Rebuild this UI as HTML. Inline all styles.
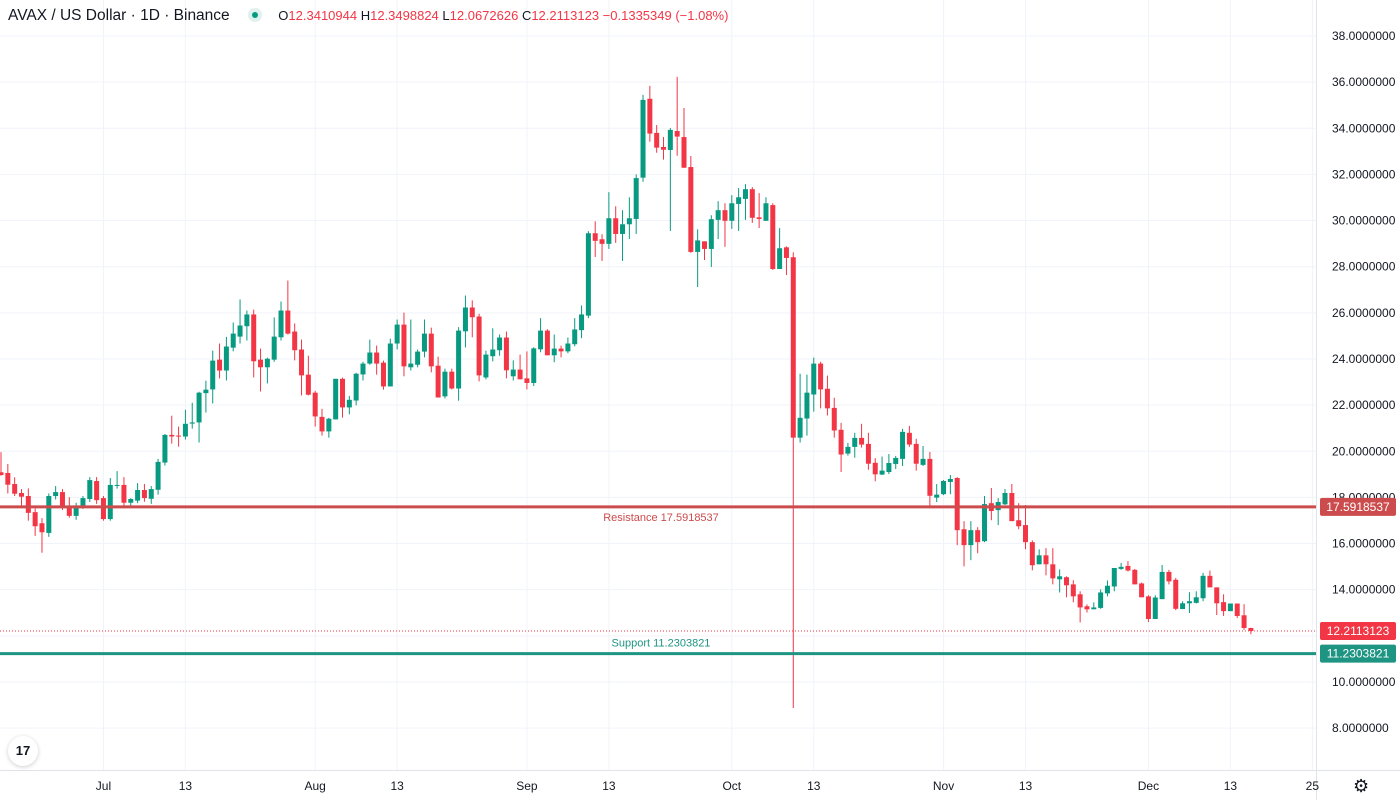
<!DOCTYPE html>
<html><head><meta charset="utf-8"><style>
body{margin:0;background:#fff;font-family:"Liberation Sans",sans-serif;}
#wrap{position:relative;width:1400px;height:800px;overflow:hidden;}
svg text{font-family:"Liberation Sans",sans-serif;}
</style></head><body>
<div id="wrap">
<svg id="chart" width="1400" height="800"></svg>
</div>
<script>
const opens=[19.09,19.06,18.58,18.19,18.06,17.36,16.88,16.46,18.06,18.23,17.55,17.2,17.55,17.93,18.71,17.97,17.06,18.5,18.54,17.77,17.86,18.32,17.94,18.33,19.51,20.71,20.68,20.64,21.2,21.25,22.52,22.68,23.97,23.5,24.49,24.97,25.42,25.93,23.97,23.64,23.97,24.94,26.1,25.19,24.41,23.32,22.54,21.49,20.86,21.38,23.14,21.9,22.2,23.33,23.8,24.28,23.84,22.81,24.67,25.49,23.64,23.75,24.32,25.1,23.71,22.38,23.45,22.72,25.2,26.23,25.84,23.2,24.12,24.38,24.93,23.25,23.54,23.16,22.96,24.42,25.23,24.16,24.45,24.33,24.64,25.25,25.88,29.45,29.19,28.99,30.1,29.42,29.84,30.07,31.86,35.28,33.8,33.19,33.06,33.88,33.62,32.32,28.64,29.1,28.77,30.03,30.45,29.99,30.72,30.94,31.36,30.14,29.99,30.67,27.9,28.84,28.41,20.59,21.42,22.46,23.8,22.71,21.88,20.93,19.9,20.19,20.58,20.32,19.5,18.99,19.1,19.45,19.67,20.8,20.32,19.41,19.67,17.99,18.14,18.67,18.84,16.62,15.93,16.58,16.1,17.75,17.45,17.7,18.19,17.01,16.8,16.06,15.1,15.49,15.1,14.45,14.54,14.23,13.8,13.28,13.15,13.21,13.84,14.14,14.9,15.03,14.86,14.27,13.71,12.73,13.59,14.77,14.43,13.16,13.41,13.43,13.63,14.6,14.1,13.46,13.07,13.4,12.89,12.34];
const highs=[19.96,19.45,18.87,18.36,18.39,17.52,17.1,18.17,18.49,18.36,18.01,17.77,18.06,18.88,18.88,18.06,18.84,19.14,18.88,17.97,18.62,18.58,18.49,19.67,20.75,21.54,21.07,21.8,22.1,22.58,23.06,24.36,24.67,24.96,25.58,26.58,26.1,26.14,24.45,24.06,25.8,26.49,27.4,25.54,24.84,24.14,22.62,21.84,21.45,23.14,23.19,22.4,23.4,23.88,24.84,24.58,23.93,24.88,25.71,26.01,25.71,24.41,25.71,25.36,24.1,23.58,23.58,25.38,26.75,26.54,25.96,24.36,25.33,25.06,25.19,23.94,24.19,24.33,24.51,25.77,25.29,25.06,24.58,24.93,25.77,26.32,29.54,29.97,29.41,31.23,30.62,30.45,31.01,32.0,35.45,35.84,34.14,33.62,34.01,36.23,34.88,32.8,29.62,29.1,30.23,30.84,30.75,31.1,31.41,31.58,31.45,31.19,31.01,30.75,29.67,28.88,28.62,23.36,23.32,24.06,23.88,23.28,22.32,21.23,20.36,20.8,21.19,20.8,19.7,19.77,19.88,19.8,20.97,21.1,20.54,20.23,19.97,18.58,18.75,18.97,18.88,16.97,16.97,16.71,18.06,18.41,17.97,18.36,18.58,17.75,17.67,16.14,15.75,15.8,15.8,14.88,14.58,14.41,13.93,13.36,13.45,14.01,14.4,14.94,15.16,15.24,14.9,14.31,13.76,13.76,15.07,14.86,14.51,13.5,13.89,13.93,14.73,14.83,14.1,13.8,13.4,13.4,13.37,12.35];
const lows=[18.94,18.17,18.06,17.62,16.99,16.33,15.6,16.29,17.91,17.45,17.12,17.03,17.5,17.8,17.72,16.99,16.99,18.38,17.6,17.64,17.75,17.81,17.72,18.12,19.38,20.33,20.2,20.51,20.98,20.38,21.68,22.07,23.16,23.07,24.33,24.67,24.8,23.2,22.59,22.94,23.88,24.8,25.06,23.94,22.42,22.42,21.07,20.68,20.59,21.38,21.46,21.6,21.99,23.07,23.75,23.32,22.67,22.81,24.41,23.25,23.5,23.64,24.07,23.42,22.33,22.29,22.68,22.19,24.5,24.94,23.03,23.12,23.9,24.14,23.16,23.07,23.12,22.68,22.83,24.29,24.16,23.86,24.07,24.25,24.55,24.9,25.77,28.42,28.25,28.77,29.03,28.25,29.2,29.42,31.68,33.42,32.94,32.64,29.55,32.81,32.29,28.6,27.12,28.29,27.99,29.2,28.86,29.64,29.55,30.03,29.9,29.68,29.99,27.86,27.9,27.64,8.87,20.38,20.68,21.72,21.86,21.55,20.59,19.1,19.81,19.72,20.16,19.2,18.7,18.97,19.01,19.23,19.36,20.19,19.16,19.36,17.62,17.8,18.1,18.14,15.93,15.01,15.28,15.58,16.06,17.01,16.8,17.67,16.97,16.62,15.75,14.84,15.1,14.62,14.23,13.88,13.67,13.45,12.58,13.01,13.15,13.17,13.71,13.93,14.86,14.79,14.23,13.67,12.6,12.73,13.59,14.23,13.11,13.16,12.99,13.4,13.5,14.1,12.9,12.86,13.07,12.77,12.26,12.07];
const closes=[18.97,18.55,18.16,18.03,17.33,16.75,16.49,18.06,18.23,17.55,17.2,17.6,17.97,18.75,17.88,17.06,18.54,18.54,17.77,17.93,18.32,17.97,18.36,19.54,20.71,20.64,20.65,21.19,21.25,22.54,22.67,23.93,23.5,24.54,25.1,25.45,25.93,23.9,23.64,24.01,24.97,26.1,25.1,24.38,23.29,22.45,21.51,20.86,21.41,23.14,21.9,22.23,23.36,23.8,24.28,23.8,22.81,24.67,25.49,23.68,23.8,24.32,25.1,23.68,22.33,23.45,22.72,25.23,26.23,25.81,23.29,24.19,24.41,24.93,23.51,23.54,23.12,22.96,24.46,25.23,24.16,24.45,24.33,24.67,25.28,25.93,29.45,29.12,28.99,30.1,29.42,29.84,30.1,31.84,35.23,33.77,33.16,33.07,33.93,33.64,32.29,28.64,29.14,28.77,30.06,30.45,29.99,30.75,31.01,31.36,30.12,30.07,30.75,27.9,28.8,28.38,20.59,21.45,22.54,23.8,22.68,21.86,20.9,19.86,20.19,20.58,20.29,19.46,19.0,19.16,19.49,19.71,20.84,20.29,19.46,19.67,18.07,18.12,18.71,18.8,16.58,15.93,16.58,16.06,17.71,17.41,17.8,18.19,16.97,16.75,16.06,15.06,15.49,15.1,14.49,14.58,14.19,13.71,13.23,13.15,13.23,13.88,14.17,14.94,14.99,14.83,14.23,13.67,12.73,13.66,14.77,14.36,13.17,13.41,13.5,13.67,14.6,14.1,13.41,13.07,13.4,12.86,12.34,12.21];
const priceTicks=[38,36,34,32,30,28,26,24,22,20,18,16,14,12,10,8];
const timeLabels=["Jul","13","Aug","13","Sep","13","Oct","13","Nov","13","Dec","13","25"];
const timeIdx=[15,27,46,58,77,89,107,119,138,150,168,180,192];
const resistance=17.5918537, support=11.2303821, lastPrice=12.2113123;

const NS="http://www.w3.org/2000/svg";
const svg=document.getElementById('chart');
const PW=1316, PH=770;
const yOf=p=>36+(38-p)*23.07;
const xOf=i=>1+i*6.83;
function el(tag,attrs,parent){const e=document.createElementNS(NS,tag);for(const k in attrs)e.setAttribute(k,attrs[k]);(parent||svg).appendChild(e);return e;}
const G='#089981',R='#f23645';

priceTicks.forEach(p=>{
  const l=el('line',{x1:0,x2:PW,y1:yOf(p),y2:yOf(p),stroke:'#f0f3fa','stroke-width':1});
  
  
});
timeIdx.forEach((d,k)=>{
  const x=xOf(d);
  const l=el('line',{x1:x,x2:x,y1:0,y2:PH,stroke:'#f0f3fa','stroke-width':1});
  
  
});
let ax=el('line',{x1:PW+0.5,x2:PW+0.5,y1:0,y2:800,stroke:'#e0e3eb'});


let bx=el('line',{x1:0,x2:1400,y1:PH+0.5,y2:PH+0.5,stroke:'#e0e3eb'});


priceTicks.forEach(p=>{
  const t=el('text',{x:1332,y:yOf(p)+4,'font-size':12,fill:'#131722'});
  t.textContent=p.toFixed(7);
  
  
});
timeIdx.forEach((d,k)=>{
  const t=el('text',{x:xOf(d),y:790,'font-size':12,fill:'#131722','text-anchor':'middle'});
  t.textContent=timeLabels[k];
  
  
});

let dl=el('line',{x1:0,x2:PW,y1:yOf(lastPrice),y2:yOf(lastPrice),stroke:R,'stroke-width':1,'stroke-dasharray':'1 2'});



closes.forEach((c,i)=>{
  const o=opens[i],h=highs[i],lo=lows[i];
  const col=c>=o?G:R;const x=xOf(i);
  const w=el('line',{x1:x,x2:x,y1:yOf(h),y2:yOf(lo),stroke:col,'stroke-width':1});
  
  
  const top=yOf(Math.max(o,c)),bot=yOf(Math.min(o,c));
  const b=el('rect',{x:x-2.5,y:top,width:5,height:Math.max(1,bot-top),fill:col});
  
  
});

let rl=el('line',{x1:0,x2:PW,y1:yOf(resistance),y2:yOf(resistance),stroke:'#cc4b4c','stroke-width':3});


let rt=el('text',{x:661,y:yOf(resistance)+14,'font-size':11,fill:'#cc4b4c','text-anchor':'middle'});
rt.textContent='Resistance 17.5918537';


let sl=el('line',{x1:0,x2:PW,y1:yOf(support),y2:yOf(support),stroke:'#1e9483','stroke-width':3});


let st=el('text',{x:661,y:yOf(support)-7,'font-size':11,fill:'#1e9483','text-anchor':'middle'});
st.textContent='Support 11.2303821';



function tag(p,col,name){
  const y=yOf(p);
  const r=el('rect',{x:1320,y:y-9,width:76,height:18,rx:2,fill:col});
  
  
  const t=el('text',{x:1358,y:y+4,'font-size':12,fill:'#fff','text-anchor':'middle'});
  t.textContent=p.toFixed(7);
  
  
}
tag(resistance,'#cc4b4c','resistance');
tag(lastPrice,R,'last-price');
tag(support,'#1e9483','support');
</script>
<div style="position:absolute;left:8px;top:7px;font-size:15.5px;color:#131722;white-space:nowrap;">
<span>AVAX / US Dollar · 1D · Binance</span>
<span style="display:inline-block;width:14px;height:14px;border-radius:50%;background:#e0f2ee;vertical-align:-2px;margin-left:14px;position:relative;"><span style="position:absolute;left:4px;top:4px;width:6px;height:6px;border-radius:50%;background:#089981"></span></span>
<span style="font-size:13px;margin-left:12px;color:#131722">O<span style="color:#f23645">12.3410944</span> H<span style="color:#f23645">12.3498824</span> L<span style="color:#f23645">12.0672626</span> C<span style="color:#f23645">12.2113123</span> <span style="color:#f23645">−0.1335349 (−1.08%)</span></span>
</div>
<div style="position:absolute;left:8px;top:736px;width:30px;height:30px;border-radius:50%;background:#fff;box-shadow:0 1px 4px rgba(0,0,0,.2);font:bold 13px 'Liberation Sans',sans-serif;color:#131722;text-align:center;line-height:30px;">17</div>
<div style="position:absolute;left:1353px;top:776px;font-size:18px;color:#131722;">⚙</div>
</body></html>
